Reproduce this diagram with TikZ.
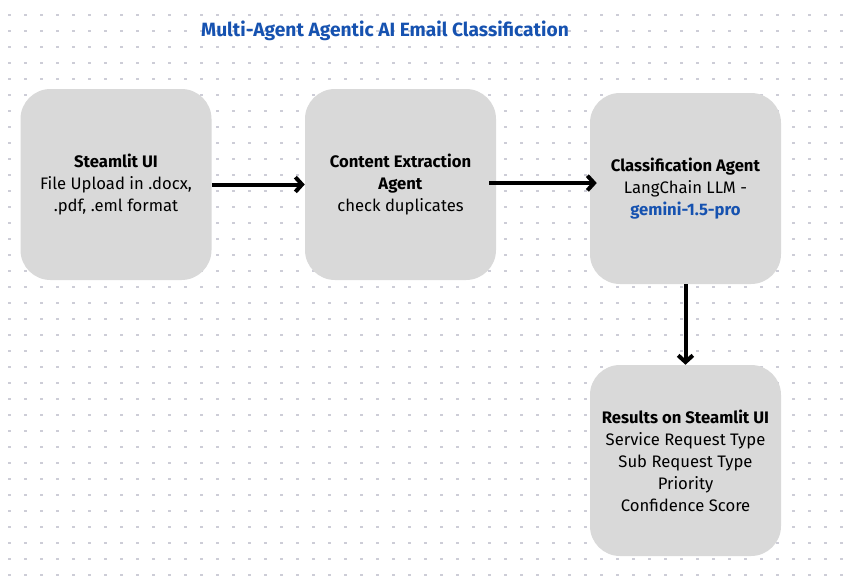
\documentclass[tikz,border=0pt]{standalone}
\usepackage{fontspec}
\setmainfont{Fira Sans}
\usepackage{xcolor}
\usepackage{tikz}
\usetikzlibrary{calc, positioning, arrows.meta}
\definecolor{boxgray}{RGB}{217,217,217}
\definecolor{titleblue}{RGB}{22,82,176}
\definecolor{dotgray}{RGB}{205,205,215}

\begin{document}
\begin{tikzpicture}[x=0.75pt, y=-0.75pt,
  >={Straight Barb[length=5pt, width=11pt]},
  box/.style={fill=boxgray, rounded corners=22.5pt, minimum width=143.25pt,
    minimum height=143.25pt, inner sep=0pt, align=center,
    font=\fontsize{12.5}{16.5}\selectfont},
  flow/.style={->, line width=3pt}]
% Fundo
\fill[white] (0,0) rectangle (853,578);
\foreach \i in {0,...,52}
  \foreach \j in {0,...,35}
    \fill[dotgray] (8.4+16*\i,13.6+16*\j) rectangle ++(2.2,2.2);
% Titulo
\node[text=titleblue, font=\fontsize{14.4}{17}\selectfont\bfseries] (title) at (385,31) {Multi-Agent Agentic AI Email Classification};
% Caixas
\node[box] (upload) at (116,184.5) {\textbf{Steamlit UI}\\File Upload in .docx,\\.pdf, .eml format};
\node[box] (extract) at (400.5,184.5) {\textbf{Content Extraction}\\\textbf{Agent}\\check duplicates};
\node[box] (classify) at (685.5,188.5) {\textbf{Classification Agent}\\LangChain LLM -\\\textcolor{titleblue}{\textbf{gemini-1.5-pro}}};
\node[box] (results) at (685.5,460.5) {\textbf{Results on Steamlit UI}\\Service Request Type\\Sub Request Type\\Priority\\Confidence Score};
% Setas
\draw[flow] (upload.east) -- (extract.west);
\draw[flow, shorten <=-5.25pt, shorten >=-5.25pt] ([yshift=1.1pt]extract.east) -- ([yshift=1.1pt]classify.west |- extract.east);
\draw[flow] (classify.south) -- (results.north);
\end{tikzpicture}
\end{document}
